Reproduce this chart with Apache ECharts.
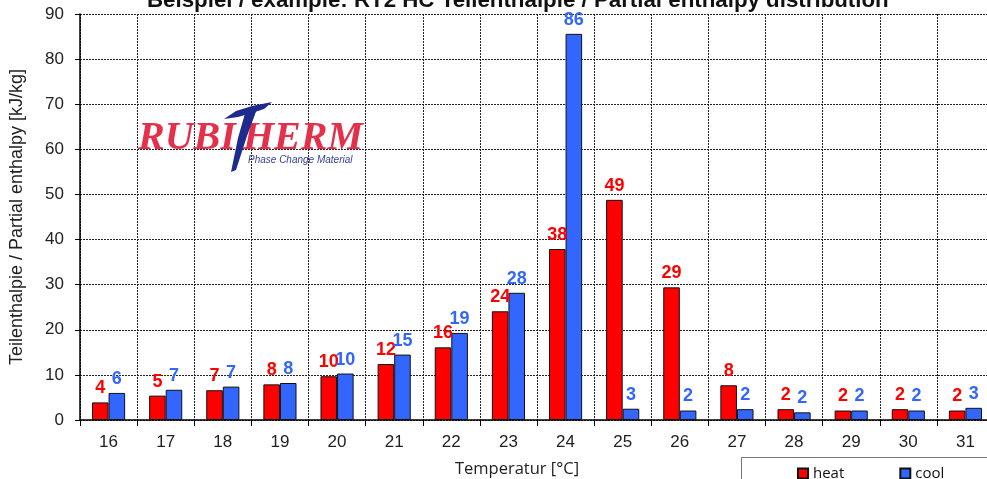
<!DOCTYPE html>
<html>
<head>
<meta charset="utf-8">
<script src="https://cdn.jsdelivr.net/npm/echarts@6/dist/echarts.min.js"></script>
<style>
html,body{margin:0;padding:0;background:#fff;}
#main{width:987px;height:479px;}
</style>
</head>
<body>
<div id="main"></div>
<script>
const categories = ['16','17','18','19','20','21','22','23','24','25','26','27','28','29','30','31'];
const heatValues = [3.9, 5.4, 6.6, 7.9, 9.7, 12.4, 16.1, 24.1, 37.9, 48.8, 29.4, 7.7, 2.4, 2.1, 2.4, 2.1];
const coolValues = [6.0, 6.7, 7.4, 8.2, 10.3, 14.5, 19.3, 28.2, 85.6, 2.5, 2.1, 2.4, 1.7, 2.1, 2.1, 2.7];
const yTicks = [0, 10, 20, 30, 40, 50, 60, 70, 80, 90];
const seriesNames = ['heat', 'cool'];

const chart = echarts.init(document.getElementById('main'));
const labelFont = 'Liberation Sans, Arial, sans-serif';

chart.setOption({
  animation: false,
  backgroundColor: '#fff',
  title: {
    text: 'Beispiel / example: RT2 HC Teilenthalpie / Partial enthalpy distribution',
    left: 142,
    top: -15,
    textStyle: { fontFamily: labelFont, fontWeight: 'bold', fontSize: 22.3, color: '#111' }
  },
  legend: {
    left: 792,
    top: 461,
    itemWidth: 10,
    itemHeight: 10,
    itemGap: 55,
    icon: 'rect',
    data: seriesNames,
    textStyle: { fontFamily: 'Open Sans, sans-serif', fontSize: 15, color: '#111' }
  },
  grid: { left: 80, right: -7, top: 14, bottom: 59, containLabel: false, outerBoundsMode: 'none' },
  xAxis: {
    type: 'category',
    data: categories,
    name: 'Temperatur [°C]',
    nameLocation: 'middle',
    nameGap: 41,
    nameTextStyle: { fontFamily: 'Open Sans, sans-serif', fontSize: 16.5, color: '#222', padding: [0, 40, 0, 0] },
    axisLine: { lineStyle: { color: '#000', width: 1.5 } },
    axisTick: { show: true, length: 6, lineStyle: { color: '#000' } },
    axisLabel: { fontFamily: labelFont, fontSize: 17, color: '#222', margin: 14 },
    splitLine: { show: true, lineStyle: { color: '#222', type: [2, 1], width: 1 } }
  },
  yAxis: {
    type: 'value',
    min: yTicks[0],
    max: yTicks[yTicks.length - 1],
    interval: 10,
    name: 'Teilenthalpie / Partial enthalpy [kJ/kg]',
    nameLocation: 'middle',
    nameGap: 54,
    nameTextStyle: { fontFamily: labelFont, fontSize: 18, color: '#222' },
    axisLine: { show: true, lineStyle: { color: '#000', width: 1.5 } },
    axisTick: { show: true, length: 5, lineStyle: { color: '#000' } },
    axisLabel: { fontFamily: labelFont, fontSize: 17, color: '#222', margin: 16 },
    splitLine: { show: true, lineStyle: { color: '#222', type: [2, 1], width: 1 } }
  },
  series: [
    {
      name: seriesNames[0],
      type: 'bar',
      data: heatValues,
      barGap: '0%',
      barCategoryGap: '42%',
      itemStyle: { color: '#ff0000', borderColor: '#111', borderWidth: 1 },
      label: {
        show: true, position: 'top', distance: 5,
        formatter: p => Math.round(p.value),
        fontFamily: labelFont, fontWeight: 'bold', fontSize: 18, color: '#ff0000'
      }
    },
    {
      name: seriesNames[1],
      type: 'bar',
      data: coolValues,
      barGap: '0%',
      barCategoryGap: '42%',
      itemStyle: { color: '#3366ff', borderColor: '#111', borderWidth: 1 },
      label: {
        show: true, position: 'top', distance: 5,
        formatter: p => Math.round(p.value),
        fontFamily: labelFont, fontWeight: 'bold', fontSize: 18, color: '#3366ff'
      }
    }
  ],
  graphic: [
    { type: 'rect', shape: { x: 741.5, y: 457.5, width: 300, height: 40 }, style: { fill: 'none', stroke: '#777', lineWidth: 1 }, z: 1 },
    { type: 'text', style: { text: 'RUBI', x: 138, y: 159, verticalAlign: 'bottom', font: 'italic bold 40px "Liberation Serif", serif', fill: '#e5304c' }, z: 10 },
    { type: 'text', style: { text: 'HERM', x: 243, y: 159, verticalAlign: 'bottom', font: 'italic bold 40px "Liberation Serif", serif', fill: '#e5304c' }, z: 10 },
    { type: 'polygon', shape: { points: [[224,119],[236,111],[252,106],[272,102],[264,109],[252,113],[238,117]] }, style: { fill: '#1e2b8c' }, z: 11 },
    { type: 'polygon', shape: { points: [[246,110],[257,109],[247,136],[236,170],[231,172],[238,138]] }, style: { fill: '#1e2b8c' }, z: 11 },
    { type: 'text', style: { text: 'Phase Change Material', x: 248, y: 160, verticalAlign: 'middle', font: 'italic 10px "Liberation Sans", sans-serif', fill: '#3b3f93' }, z: 10 }
  ]
});
</script>
</body>
</html>
